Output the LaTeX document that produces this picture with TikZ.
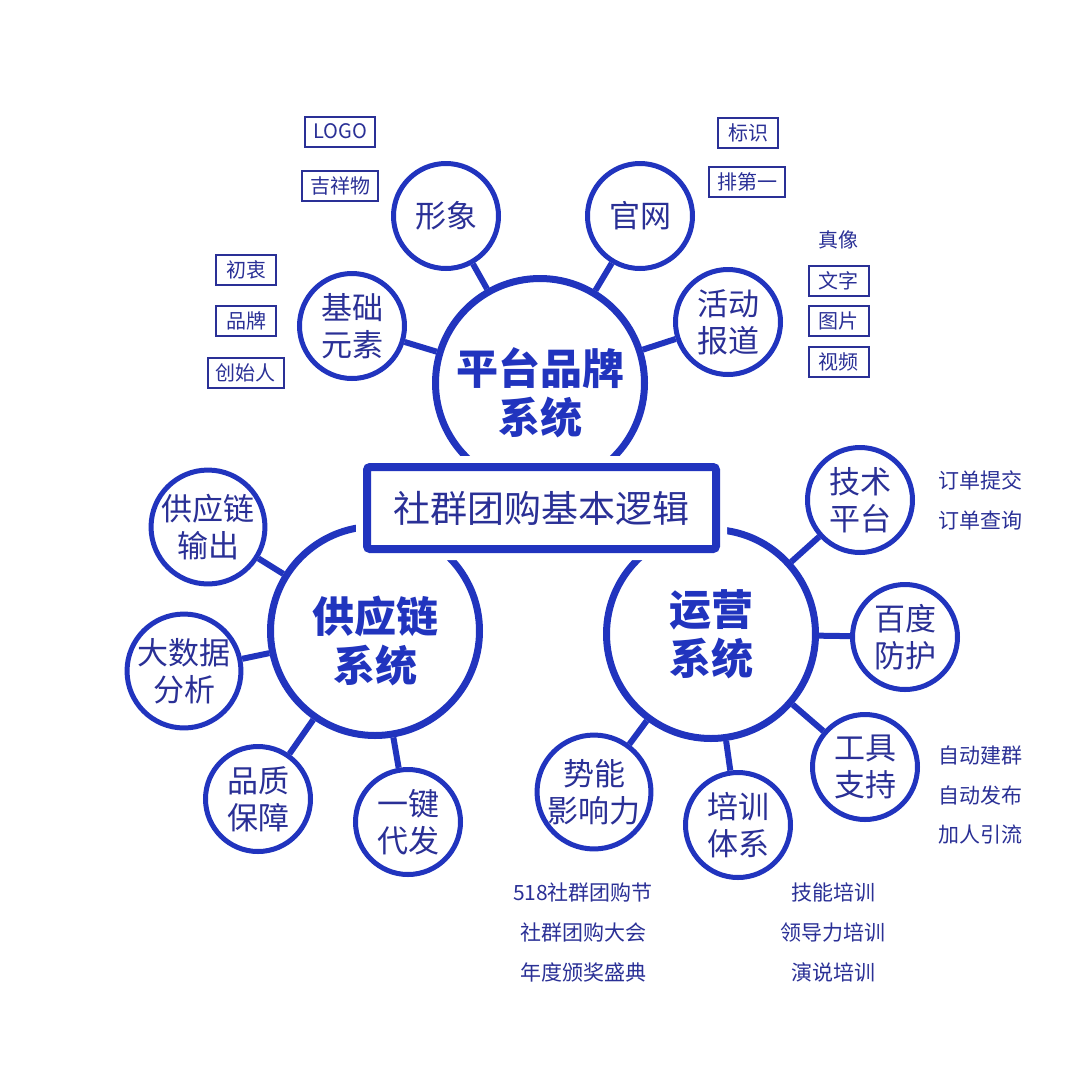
\documentclass[tikz,border=0pt]{standalone}
\usepackage{fontspec}
\newfontfamily\cjk{Noto Sans CJK SC}
\newfontfamily\cjkheavy{Noto Sans CJK SC Black}
\usetikzlibrary{positioning}
\definecolor{royal}{RGB}{33,52,190}
\definecolor{ink}{RGB}{42,48,150}
\newcommand\dropline{\rule{0pt}{56pt}}
\tikzset{
  hub/.style={circle, draw=royal, line width=7, fill=white, minimum size=209, inner sep=0,
    text=royal, align=center, font=\cjkheavy\fontsize{42}{49}\selectfont},
  leaf/.style={circle, draw=royal, line width=5, fill=white, minimum size=105, inner sep=0,
    text=ink, align=center, font=\cjk\fontsize{31}{37}\selectfont},
  core/.style={rectangle, draw=royal, line width=8, rounded corners=3, fill=white,
    minimum width=349, minimum height=82, text=ink, font=\cjk\fontsize{37}{40}\selectfont,
    preaction={draw=white, line width=22}},
  tag/.style={rectangle, draw=ink, line width=2, minimum width=60, minimum height=30,
    inner xsep=8, inner ysep=0, text=ink, font=\cjk\fontsize{20}{22}\selectfont},
  note/.style={text=ink, font=\cjk\fontsize{21}{24}\selectfont},
  link/.style={draw=royal, line width=6}
}
\begin{document}
\begin{tikzpicture}[x=1pt,y=-1pt]
        \useasboundingbox[fill=white] (0,0) rectangle (1080,1080);

        % three systems
        \node[hub] at (540, 383)(brand){\dropline 平台品牌\\系统};
        \node[hub] at (375, 631)(supply){\dropline 供应链\\系统};
        \node[hub] at (711, 634)(ops){运营\\系统};
        \node[core] at (541.5, 508)(logic){社群团购基本逻辑};

        % brand
        \node[leaf] at (446, 216)(look){形象};
        \node[leaf] at (640, 216)(site){官网};
        \node[leaf] at (352, 326)(basis){基础\\元素};
        \node[leaf] at (728, 322)(report){活动\\报道};

        % supply chain
        \node[leaf] at (208, 527)(output){供应链\\输出};
        \node[leaf] at (184, 671)(data){大数据\\分析};
        \node[leaf] at (258, 799)(quality){品质\\保障};
        \node[leaf] at (408, 822)(ship){一键\\代发};

        % operation
        \node[leaf] at (860, 500)(tech){技术\\平台};
        \node[leaf] at (905, 637)(guard){百度\\防护};
        \node[leaf] at (865, 767)(tool){工具\\支持};
        \node[leaf] at (738, 825)(train){培训\\体系};
        \node[leaf] at (594, 792)(power){势能\\影响力};

        \path[link]
        (brand)edge(look)
        (brand)edge(site)
        (brand)edge(basis)
        (brand)edge(report)
        (supply)edge(output)
        (supply)edge(data)
        (supply)edge(quality)
        (supply)edge(ship)
        (ops)edge(tech)
        (ops)edge(guard)
        (ops)edge(tool)
        (ops)edge(train)
        (ops)edge(power)
        ;

        % tags
        \node[tag] at (340, 131.5)(logo){LOGO};
        \node[tag] at (340, 185.5)(mascot){吉祥物};
        \node[tag] at (246, 269.5)(origin){初衷};
        \node[tag] at (246, 320.5)(label){品牌};
        \node[tag] at (245.5, 373)(founder){创始人};
        \node[tag] at (748, 132.5)(mark){标识};
        \node[tag] at (747, 182)(rank){排第一};
        \node[note, font=\cjk\fontsize{20}{22}\selectfont] at (838, 240)(real){真像};
        \node[tag] at (838.5, 281)(words){文字};
        \node[tag] at (838.5, 321)(photo){图片};
        \node[tag] at (838.5, 361.5)(video){视频};

        % notes
        \node[note] at (980, 480)(submit){订单提交};
        \node[note] at (980, 520)(query){订单查询};
        \node[note] at (980, 755)(group){自动建群};
        \node[note] at (980, 795)(post){自动发布};
        \node[note] at (980, 835)(invite){加人引流};
        \node[note] at (583, 892)(fest){518社群团购节};
        \node[note] at (583, 932)(meet){社群团购大会};
        \node[note] at (583, 972)(award){年度颁奖盛典};
        \node[note] at (833, 892)(skill){技能培训};
        \node[note] at (833, 932)(lead){领导力培训};
        \node[note] at (833, 972)(speech){演说培训};
    \end{tikzpicture}
\end{document}
